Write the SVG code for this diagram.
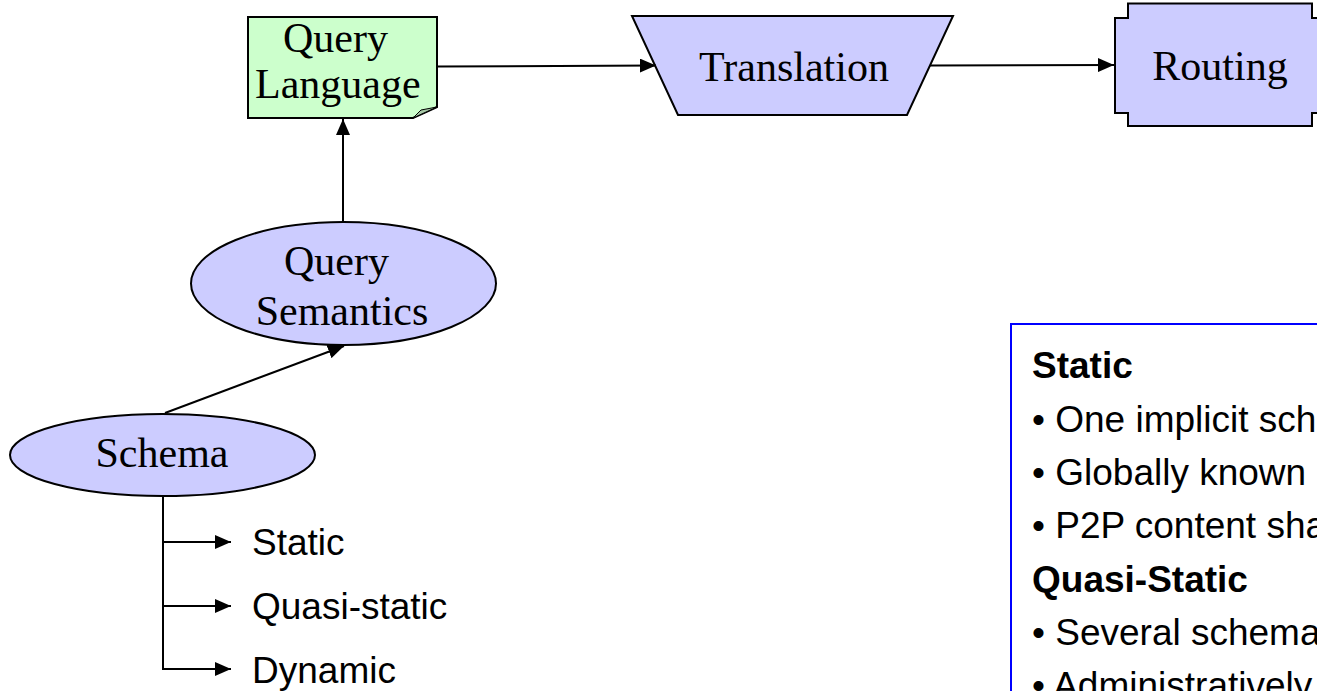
<svg xmlns="http://www.w3.org/2000/svg" width="1317" height="691" viewBox="0 0 1317 691">
  <defs>
    <style>
      .node { stroke: #000; stroke-width: 2; }
      .green { fill: #ccffcc; }
      .violet { fill: #ccccff; }
      .serif { font-family: "Liberation Serif", "Times New Roman", serif; font-size: 42px; fill: #000; }
      .sans { font-family: "Liberation Sans", Arial, sans-serif; font-size: 37px; fill: #000; }
      .bold { font-weight: bold; }
      .edge { fill: none; stroke: #000; stroke-width: 2; }
    </style>
    <marker id="arrow" viewBox="0 0 16 14" refX="16" refY="7" markerWidth="16" markerHeight="14" markerUnits="userSpaceOnUse" orient="auto">
      <path d="M0,0 L16,7 L0,14 Z" fill="#000"/>
    </marker>
  </defs>
  <rect width="1317" height="691" fill="#fff"/>

  <!-- pipeline nodes -->
  <g id="query-language">
    <path class="node green" d="M248,17 H437 V107 L413,118 H248 Z"/>
    <path d="M437,107 L421,110 L413,118 Z" fill="#a6c8a6" stroke="#000" stroke-width="1"/>
    <text class="serif" x="283" y="52">Query</text>
    <text class="serif" x="255" y="98">Language</text>
  </g>

  <g id="translation">
    <path class="node violet" d="M632,16 H953 L907,115 H678 Z"/>
    <text class="serif" x="794" y="81" text-anchor="middle">Translation</text>
  </g>

  <g id="routing">
    <path class="node violet" d="M1128,3.5 H1312 V18 H1325 V113 H1312 V126 H1128 V113 H1115 V18 H1128 Z"/>
    <text class="serif" x="1220" y="80" text-anchor="middle">Routing</text>
  </g>

  <g id="query-semantics">
    <ellipse class="node violet" cx="343.5" cy="283.5" rx="152.5" ry="61.5"/>
    <text class="serif" x="284" y="275">Query</text>
    <text class="serif" x="342" y="325" text-anchor="middle">Semantics</text>
  </g>

  <g id="schema">
    <ellipse class="node violet" cx="162.5" cy="455" rx="152.5" ry="41"/>
    <text class="serif" x="162" y="467" text-anchor="middle">Schema</text>
  </g>

  <g id="schema-kinds">
    <text class="sans" x="252" y="555">Static</text>
    <text class="sans" x="252" y="619">Quasi-static</text>
    <text class="sans" x="252" y="683">Dynamic</text>
  </g>

  <!-- connectors -->
  <g id="connectors">
    <path class="edge" d="M437,66.5 L656,65.5" marker-end="url(#arrow)"/>
    <path class="edge" d="M930,65.5 L1114,65" marker-end="url(#arrow)"/>
    <path class="edge" d="M343,222 V119" marker-end="url(#arrow)"/>
    <path class="edge" d="M165,413 L344,346" marker-end="url(#arrow)"/>
    <path class="edge" d="M163,496 V669 H231"/>
    <path class="edge" d="M163,542 H231" marker-end="url(#arrow)"/>
    <path class="edge" d="M163,606 H231" marker-end="url(#arrow)"/>
    <path class="edge" d="M200,669 H231" marker-end="url(#arrow)"/>
  </g>

  <!-- notes panel -->
  <g id="notes">
    <rect x="1011" y="324" width="330" height="400" fill="none" stroke="#0000ff" stroke-width="2"/>
    <text class="sans bold" x="1032" y="378">Static</text>
    <text class="sans" x="1032" y="431.5">• One implicit sch</text>
    <text class="sans" x="1032" y="485">• Globally known</text>
    <text class="sans" x="1032" y="538">• P2P content sha</text>
    <text class="sans bold" x="1032" y="591.5">Quasi-Static</text>
    <text class="sans" x="1032" y="645">• Several schema</text>
    <text class="sans" x="1032" y="698">• Administratively</text>
  </g>
</svg>
